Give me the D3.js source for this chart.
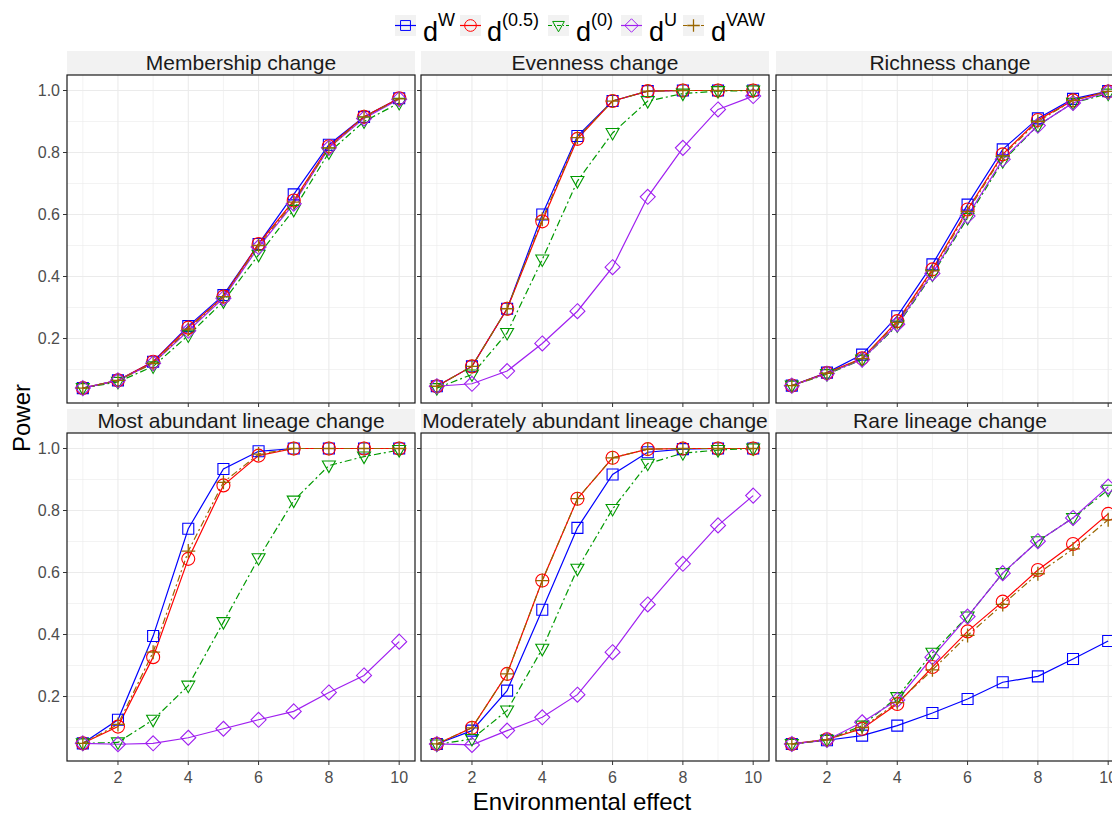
<!DOCTYPE html>
<html>
<head>
<meta charset="utf-8">
<script src="https://cdn.jsdelivr.net/npm/d3@7"></script>
<style>
  body { margin: 0; background: #fff; }
  text { font-family: "Liberation Sans", Arial, sans-serif; }
</style>
</head>
<body>
<svg id="chart" width="1112" height="815"></svg>
<script>
// panels in facet order (row by row)
const panels = ["Membership change", "Evenness change", "Richness change",
    "Most abundant lineage change", "Moderately abundant lineage change", "Rare lineage change"]
const effects = [1, 2, 3, 4, 5, 6, 7, 8, 9, 10]
const xTicks = [2, 4, 6, 8, 10]
const yTicks = [0.2, 0.4, 0.6, 0.8, 1.0]
const seriesLabels = ["W", "(0.5)", "(0)", "U", "VAW"]

// power per panel, one row per panel
const dW = [
    [0.04, 0.065, 0.125, 0.24, 0.34, 0.505, 0.665, 0.825, 0.915, 0.975],
    [0.046, 0.11, 0.296, 0.60, 0.853, 0.966, 0.998, 1.0, 1.0, 1.0],
    [0.048, 0.09, 0.148, 0.272, 0.439, 0.632, 0.81, 0.91, 0.973, 0.998],
    [0.049, 0.125, 0.395, 0.741, 0.934, 0.991, 1.0, 1.0, 1.0, 1.0],
    [0.047, 0.09, 0.219, 0.48, 0.744, 0.916, 0.988, 0.998, 1.0, 1.0],
    [0.047, 0.059, 0.074, 0.106, 0.147, 0.192, 0.246, 0.265, 0.321, 0.379]
]
const d05 = [
    [0.04, 0.065, 0.125, 0.235, 0.335, 0.505, 0.645, 0.82, 0.915, 0.975],
    [0.046, 0.11, 0.296, 0.578, 0.844, 0.966, 0.998, 1.0, 1.0, 1.0],
    [0.048, 0.089, 0.136, 0.256, 0.423, 0.616, 0.794, 0.905, 0.968, 0.997],
    [0.049, 0.103, 0.327, 0.644, 0.881, 0.977, 1.0, 1.0, 1.0, 1.0],
    [0.047, 0.099, 0.273, 0.574, 0.838, 0.97, 0.998, 1.0, 1.0, 1.0],
    [0.047, 0.062, 0.096, 0.176, 0.295, 0.41, 0.506, 0.608, 0.692, 0.789]
]
const d0 = [
    [0.04, 0.06, 0.11, 0.21, 0.32, 0.47, 0.615, 0.80, 0.90, 0.96],
    [0.04, 0.084, 0.218, 0.455, 0.708, 0.863, 0.966, 0.99, 0.998, 1.0],
    [0.048, 0.085, 0.132, 0.242, 0.406, 0.589, 0.772, 0.887, 0.96, 0.99],
    [0.049, 0.052, 0.125, 0.235, 0.44, 0.646, 0.832, 0.945, 0.974, 0.995],
    [0.045, 0.063, 0.155, 0.354, 0.612, 0.805, 0.951, 0.985, 0.995, 1.0],
    [0.047, 0.06, 0.106, 0.198, 0.341, 0.458, 0.598, 0.701, 0.776, 0.867]
]
const dU = [
    [0.04, 0.065, 0.12, 0.225, 0.33, 0.495, 0.635, 0.815, 0.91, 0.972],
    [0.046, 0.054, 0.095, 0.184, 0.288, 0.43, 0.657, 0.815, 0.939, 0.982],
    [0.048, 0.087, 0.132, 0.246, 0.41, 0.595, 0.778, 0.887, 0.96, 0.995],
    [0.049, 0.046, 0.049, 0.067, 0.096, 0.125, 0.152, 0.213, 0.268, 0.377],
    [0.047, 0.044, 0.09, 0.133, 0.206, 0.343, 0.497, 0.628, 0.752, 0.848],
    [0.047, 0.06, 0.117, 0.189, 0.327, 0.458, 0.598, 0.701, 0.776, 0.877]
]
const dVAW = [
    [0.04, 0.065, 0.12, 0.23, 0.335, 0.50, 0.64, 0.815, 0.915, 0.973],
    [0.046, 0.11, 0.296, 0.585, 0.848, 0.966, 0.998, 1.0, 1.0, 1.0],
    [0.048, 0.088, 0.135, 0.252, 0.418, 0.61, 0.79, 0.9, 0.968, 0.997],
    [0.049, 0.11, 0.343, 0.669, 0.891, 0.982, 1.0, 1.0, 1.0, 1.0],
    [0.047, 0.099, 0.273, 0.574, 0.838, 0.97, 0.998, 1.0, 1.0, 1.0],
    [0.047, 0.06, 0.1, 0.18, 0.286, 0.397, 0.497, 0.596, 0.676, 0.77]
]
const seriesData = [dW, d05, d0, dU, dVAW]

const colors = ["#0000ff", "#ff0000", "#009a00", "#a020f0", "#996600"]
const dashes = [null, null, "7,3,2,3", null, "7,3,2,3"]
const shapes = [
    "M-5.5,-5.5H5.5V5.5H-5.5Z",
    "M6.5,0A6.5,6.5 0 1,1 -6.5,0A6.5,6.5 0 1,1 6.5,0Z",
    "M-6.5,-4.5H6.5L0,7Z",
    "M0,-7.5L7.5,0L0,7.5L-7.5,0Z",
    "M-7,0H7M0,-7V7"
]

const svg = d3.select("#chart")
const panelW = 348, panelH = 328, stripH = 24
const colX = [67, 421, 776]
const rowY = [75, 433]

const x = d3.scaleLinear().domain([0.55, 10.45]).range([0, panelW])
const y = d3.scaleLinear().domain([-0.008, 1.05]).range([panelH, 0])
const line = d3.line().x(d => x(d[0])).y(d => y(d[1]))

panels.forEach((title, p) => {
    const col = p % 3, row = Math.floor(p / 3)
    const g = svg.append("g").attr("transform", `translate(${colX[col]},${rowY[row]})`)

    // strip
    g.append("rect").attr("x", 0).attr("y", -stripH).attr("width", panelW).attr("height", stripH)
        .attr("fill", "#f2f2f2")
    g.append("text").attr("x", panelW / 2).attr("y", -5).attr("text-anchor", "middle")
        .attr("font-size", 21).attr("fill", "#1a1a1a").text(title)

    // grid
    g.selectAll(".gx").data(effects).join("line")
        .attr("x1", d => x(d)).attr("x2", d => x(d)).attr("y1", 0).attr("y2", panelH)
        .attr("stroke", "#ebebeb").attr("stroke-width", d => d % 2 ? 0.6 : 1.1)
    g.selectAll(".gy").data(d3.range(1, 11).map(i => i / 10)).join("line")
        .attr("y1", d => y(d)).attr("y2", d => y(d)).attr("x1", 0).attr("x2", panelW)
        .attr("stroke", "#ebebeb").attr("stroke-width", (d, i) => i % 2 ? 1.1 : 0.6)

    // series lines then points
    seriesData.forEach((s, k) => {
        const pts = effects.map((e, i) => [e, s[p][i]])
        g.append("path").attr("d", line(pts)).attr("fill", "none")
            .attr("stroke", colors[k]).attr("stroke-width", 1.2)
            .attr("stroke-dasharray", dashes[k])
    })
    seriesData.forEach((s, k) => {
        g.selectAll(null).data(effects.map((e, i) => [e, s[p][i]])).join("path")
            .attr("transform", d => `translate(${x(d[0])},${y(d[1])})`)
            .attr("d", shapes[k]).attr("fill", "none")
            .attr("stroke", colors[k]).attr("stroke-width", k === 4 ? 1.3 : 1.1)
    })

    // border
    g.append("rect").attr("width", panelW).attr("height", panelH)
        .attr("fill", "none").attr("stroke", "#1a1a1a").attr("stroke-width", 1.2)

    // ticks
    g.selectAll(".tx").data(xTicks).join("line")
        .attr("x1", d => x(d)).attr("x2", d => x(d)).attr("y1", panelH).attr("y2", panelH + 4)
        .attr("stroke", "#333")
    g.selectAll(".ty").data(yTicks).join("line")
        .attr("y1", d => y(d)).attr("y2", d => y(d)).attr("x1", -4).attr("x2", 0)
        .attr("stroke", "#333")

    if (row === 1) {
        g.selectAll(".lx").data(xTicks).join("text")
            .attr("x", d => x(d)).attr("y", panelH + 22).attr("text-anchor", "middle")
            .attr("font-size", 16).attr("fill", "#4d4d4d").text(d => d)
    }
    if (col === 0) {
        g.selectAll(".ly").data(yTicks).join("text")
            .attr("x", -7).attr("y", d => y(d) + 5.5).attr("text-anchor", "end")
            .attr("font-size", 16).attr("fill", "#4d4d4d").text(d => d.toFixed(1))
    }
})

// axis titles
svg.append("text").attr("x", 582).attr("y", 810).attr("text-anchor", "middle")
    .attr("font-size", 24).attr("fill", "#000").text("Environmental effect")
svg.append("text").attr("transform", "translate(30,418) rotate(-90)").attr("text-anchor", "middle")
    .attr("font-size", 24).attr("fill", "#000").text("Power")

// legend
const keyX = [395, 460, 548, 621, 683]
const textX = [423, 487, 576, 649, 711]
const legend = svg.append("g")
seriesLabels.forEach((lab, k) => {
    const kg = legend.append("g").attr("transform", `translate(${keyX[k]},15)`)
    kg.append("rect").attr("width", 21).attr("height", 21).attr("fill", "#f2f2f2")
    kg.append("line").attr("x1", 0).attr("x2", 21).attr("y1", 10.5).attr("y2", 10.5)
        .attr("stroke", colors[k]).attr("stroke-width", 1.2).attr("stroke-dasharray", dashes[k] ? "4,2,1,2" : null)
    kg.append("path").attr("transform", "translate(10.5,10.5) scale(0.9)").attr("d", shapes[k])
        .attr("fill", "none").attr("stroke", colors[k]).attr("stroke-width", k === 4 ? 1.4 : 1.1)
    const t = legend.append("text").attr("x", textX[k]).attr("y", 41).attr("font-size", 27).attr("fill", "#000")
    t.append("tspan").text("d")
    t.append("tspan").attr("dy", -15).attr("font-size", 18).text(lab)
})
</script>
</body>
</html>
